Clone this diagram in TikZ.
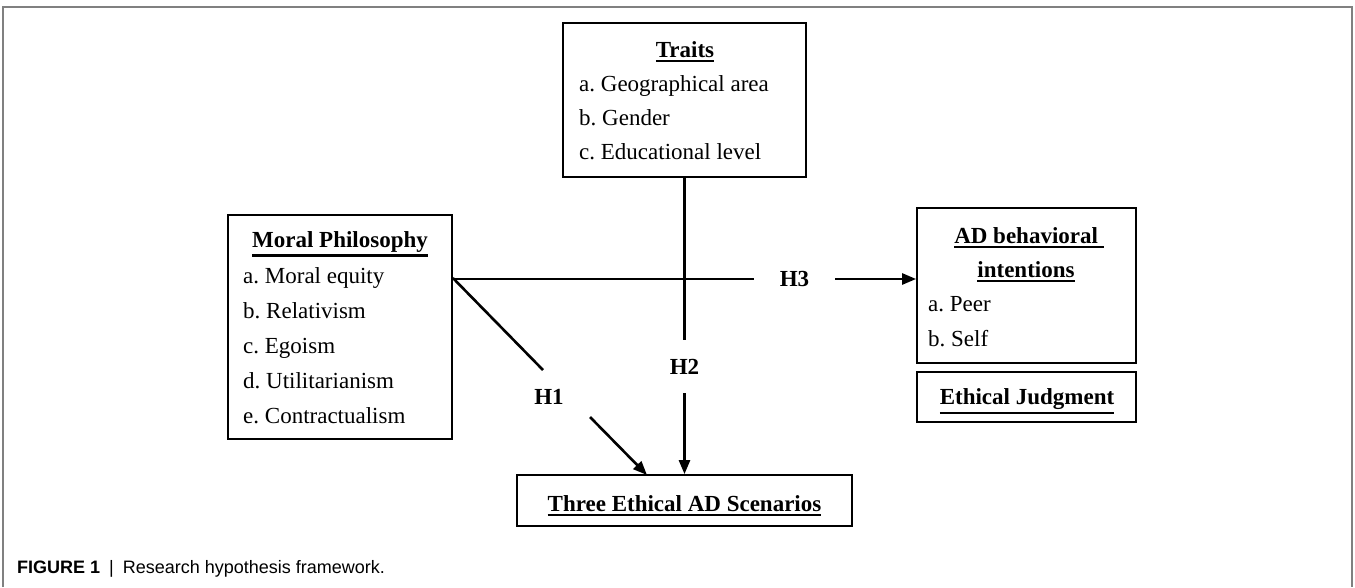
\documentclass[tikz,border=0pt]{standalone}
\usepackage{fontspec}
\setmainfont{Liberation Serif}
\newfontfamily\capfont{Liberation Sans}
\usetikzlibrary{arrows.meta,calc}
\frenchspacing
\newcommand\ulb[1]{\leavevmode\vtop{\hbox{\bfseries#1}\kern2.5pt\hrule height 2.6pt}}
\begin{document}
\begin{tikzpicture}[x=1pt,y=-1pt,
  frame/.style={draw=black!50, line width=1.3pt},
  box/.style={draw, line width=1.8pt, inner sep=0pt},
  txt/.style={inner sep=0pt, anchor=base west, font=\fontsize{23}{28}\selectfont},
  ttl/.style={inner sep=0pt, anchor=base, font=\fontsize{23}{28}\selectfont},
  hlab/.style={font=\fontsize{23}{28}\selectfont\bfseries, text height=15pt, text depth=0pt},
  conn/.style={line width=2.6pt},
  arr/.style={line width=2.6pt, -{Triangle[length=14pt,width=11pt]}}]
\useasboundingbox (0,0) rectangle (1355,587);
\draw[frame] (3,587) -- (3,7) -- (1352,7) -- (1352,587);

% boxes
\node[box, minimum width=243pt, minimum height=154pt] (traits) at (684.5,100) {};
\node[box, minimum width=224pt, minimum height=224pt] (moral) at (340,327) {};
\node[box, minimum width=219pt, minimum height=155pt] (ad) at (1026.5,285.5) {};
\node[box, minimum width=219pt, minimum height=50pt] (ej) at (1026.5,397) {};
\node[box, minimum width=335pt, minimum height=51pt] (scen) at (684.5,500.5) {};

% traits text
\node[ttl] (traitsT) at (685,57) {\ulb{Traits}};
\node[txt] (traitsA) at (579,91) {a. Geographical area};
\node[txt] (traitsB) at (579,125) {b. Gender};
\node[txt] (traitsC) at (579,159) {c. Educational level};

% moral text
\node[ttl] (moralT) at (340,247) {\ulb{Moral Philosophy}};
\node[txt] (moralA) at (243,283) {a. Moral equity};
\node[txt] (moralB) at (243,318) {b. Relativism};
\node[txt] (moralC) at (243,353) {c. Egoism};
\node[txt] (moralD) at (243,388) {d. Utilitarianism};
\node[txt] (moralE) at (243,423) {e. Contractualism};

% AD text
\node[ttl] (adT1) at (1029,243) {\ulb{AD behavioral\ }};
\node[ttl] (adT2) at (1026,277) {\ulb{intentions}};
\node[txt] (adA) at (928,311) {a. Peer};
\node[txt] (adB) at (928,346) {b. Self};

\node[ttl] (ejT) at (1027,404) {\ulb{Ethical Judgment}};
\node[ttl] (scenT) at (684.5,511) {\ulb{Three Ethical AD Scenarios}};

% hypothesis labels
\node[hlab, inner xsep=25.7pt, inner ysep=0pt] (h3) at (794.5,279) {H3};
\node[hlab, inner xsep=0pt, inner ysep=19pt] (h2) at (684.5,366.5) {H2};
\node[hlab, inner sep=0pt] (h1) at (549,397) {H1};
\coordinate (d1) at (543,370);
\coordinate (d2) at (590,417);
\coordinate (s1) at (647,475);

% connectors
\draw[conn] (moral.east |- h3.center) -- (h3.west);
\draw[arr] (h3.east) -- (ad.west |- h3.center);
\draw[conn] (traits.south) -- (h2.north);
\draw[arr] (h2.south) -- (scen.north);
\draw[conn] ([yshift=1pt]moral.east |- h3.center) -- (d1);
\draw[arr] (d2) -- (s1);

% caption
\node[inner sep=0pt, anchor=base west, font=\capfont\fontsize{18}{20}\selectfont] (cap) at (17,573)
  {\textbf{FIGURE 1}\enspace|\enspace Research hypothesis framework.};
\end{tikzpicture}
\end{document}
